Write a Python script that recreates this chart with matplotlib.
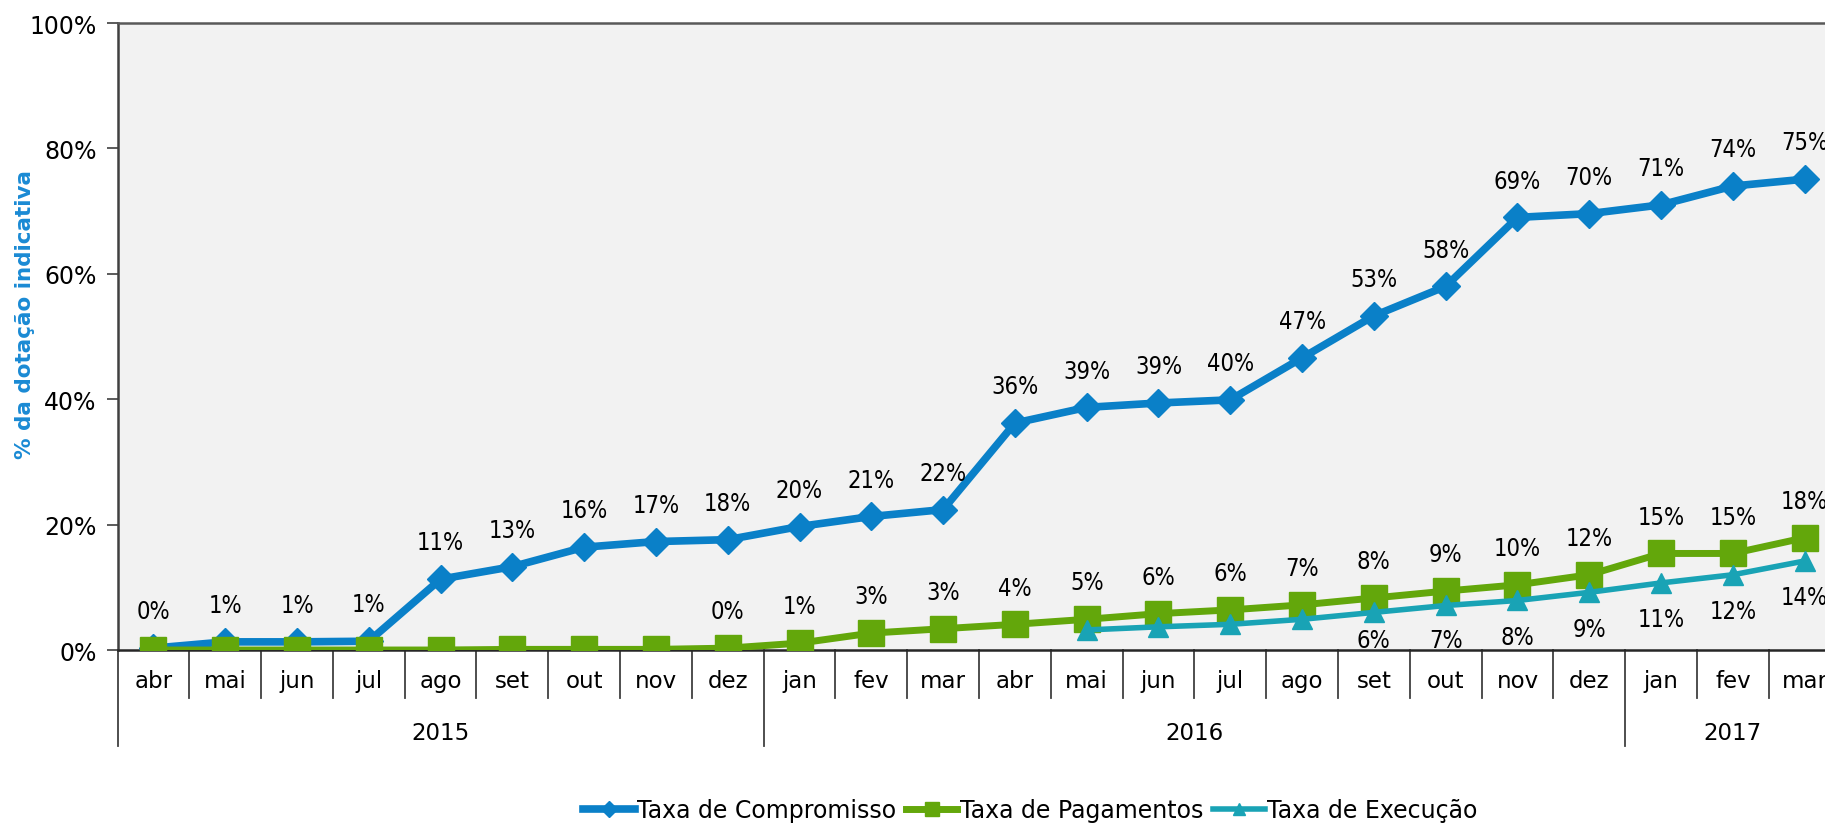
import numpy as np
import matplotlib
matplotlib.use('Agg')
import matplotlib.pyplot as plt
from matplotlib import font_manager

# dados (% da dotacao indicativa)
months = ['abr', 'mai', 'jun', 'jul', 'ago', 'set', 'out', 'nov', 'dez',
          'jan', 'fev', 'mar', 'abr', 'mai', 'jun', 'jul', 'ago', 'set', 'out', 'nov', 'dez',
          'jan', 'fev', 'mar']
years = ['2015', '2016', '2017']
year_counts = [9, 12, 3]

compromisso = [0.3, 1.3, 1.3, 1.4, 11.3, 13.3, 16.4, 17.3, 17.6, 19.7, 21.3, 22.4,
               36.2, 38.7, 39.4, 39.9, 46.6, 53.3, 58.0, 69.0, 69.6, 71.0, 74.0, 75.1]
pagamentos = [0.0, 0.0, 0.0, 0.0, 0.0, 0.1, 0.1, 0.1, 0.3, 1.1, 2.7, 3.4,
              4.1, 4.9, 5.8, 6.4, 7.2, 8.3, 9.4, 10.4, 12.0, 15.4, 15.4, 17.9]
execucao = [np.nan] * 13 + [3.2, 3.7, 4.1, 4.9, 6.0, 7.1, 7.9, 9.2, 10.7, 12.0, 14.2]

# a partir de que mes aparecem os rotulos de cada serie
pag_label_from = 8
exe_label_from = 17

names = {f.name for f in font_manager.fontManager.ttflist}
if 'Liberation Sans Narrow' in names:
    lab_kw = dict(family='Liberation Sans Narrow', fontsize=18.5)
else:
    lab_kw = dict(family='DejaVu Sans', fontstretch='condensed', fontsize=17)

c_comp = '#0A80C8'
c_pag = '#63A70B'
c_exe = '#19A3B5'

fig = plt.figure(figsize=(18.25, 8.29), dpi=100)
ax = fig.add_axes([0.0644, 0.2147, 0.9441, 0.7563])
ax.set_facecolor('#F2F2F2')

x = np.arange(len(months))
ax.plot(x, compromisso, color=c_comp, lw=5.5, marker='D', ms=14, mec=c_comp, label='Taxa de Compromisso', zorder=3)
ax.plot(x, pagamentos, color=c_pag, lw=5, marker='s', ms=19, mec=c_pag, label='Taxa de Pagamentos', zorder=4)
ax.plot(x, execucao, color=c_exe, lw=4, marker='^', ms=15, mec=c_exe, label='Taxa de Execução', zorder=5)

for i, v in enumerate(compromisso):
    ax.annotate(f'{v:.0f}%', (i, v), xytext=(0, 26.5), textcoords='offset points',
                ha='center', va='center', zorder=6, **lab_kw)
for i, v in enumerate(pagamentos):
    if i >= pag_label_from:
        ax.annotate(f'{v:.0f}%', (i, v), xytext=(0, 26.5), textcoords='offset points',
                    ha='center', va='center', zorder=6, **lab_kw)
for i, v in enumerate(execucao):
    if i >= exe_label_from:
        ax.text(i, max(v - 5.8, 1.6), f'{v:.0f}%', ha='center', va='center', zorder=6, **lab_kw)

ax.set_xlim(-0.5, len(months) - 0.5)
ax.set_ylim(0, 100)
ax.set_yticks(np.arange(0, 101, 20))
ax.set_yticklabels([f'{t}%' for t in range(0, 101, 20)])
ax.tick_params(axis='y', length=8, width=1.2, color='#404040', pad=7, labelsize=17)
ax.set_xticks([])

for s in ['left', 'top', 'bottom']:
    ax.spines[s].set_linewidth(1.8)
ax.spines['left'].set_color('#404040')
ax.spines['top'].set_color('#595959')
ax.spines['bottom'].set_color('#262626')
ax.spines['right'].set_visible(False)

# eixo de categorias em dois niveis (mes / ano)
trans = ax.get_xaxis_transform()
year_edges = np.cumsum([0] + year_counts)
for b in range(len(months) + 1):
    y0 = -0.153 if b in year_edges else -0.0766
    ax.plot([b - 0.5, b - 0.5], [0, y0], color='#404040', lw=1.3, transform=trans, clip_on=False)
for i, m in enumerate(months):
    ax.text(i, -0.049, m, transform=trans, ha='center', va='center', fontsize=16.5)
for k, yr in enumerate(years):
    mid = (year_edges[k] + year_edges[k + 1] - 1) / 2
    ax.text(mid, -0.131, yr, transform=trans, ha='center', va='center', fontsize=16.5)

fig.text(0.0137, 0.621, '% da dotação indicativa', rotation=90, ha='center', va='center',
         color='#1A8AD4', fontsize=15.5, fontweight='bold')

ax.legend(loc='center', bbox_to_anchor=(1030 / 1825, 18 / 829), bbox_transform=fig.transFigure,
          ncol=3, frameon=False, fontsize=17, markerscale=0.55, handlelength=2.2,
          handletextpad=0.1, columnspacing=0.4)

fig.savefig('out.png', dpi=100, facecolor='white')
